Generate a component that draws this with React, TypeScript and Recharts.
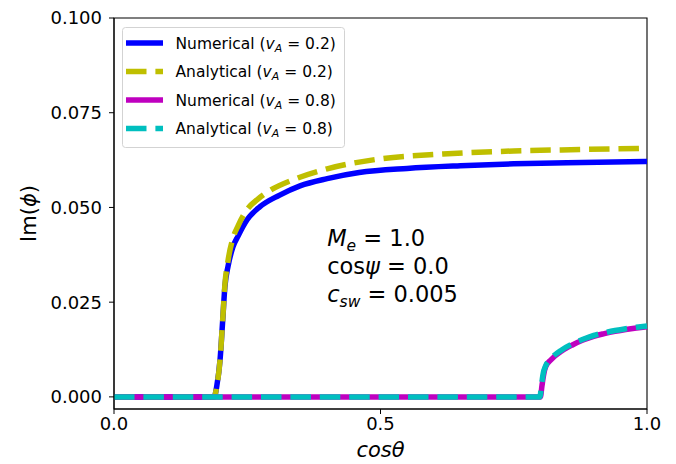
import {
  LineChart,
  Line,
  XAxis,
  YAxis,
  ReferenceArea,
  ReferenceDot,
} from 'recharts';

// cos(theta) samples and Im(phi) values
const num02X = [0, 0.188, 0.193, 0.199, 0.204, 0.208, 0.214, 0.223, 0.233, 0.25, 0.274, 0.31, 0.349, 0.4, 0.46, 0.55, 0.65, 0.75, 0.85, 1.0];
const num02Y = [0, 0, 0.003, 0.0098, 0.0203, 0.029, 0.0345, 0.0395, 0.0425, 0.0468, 0.0502, 0.0532, 0.0557, 0.0576, 0.0592, 0.0603, 0.061, 0.0615, 0.0618, 0.0621];

const ana02X = [0, 0.188, 0.193, 0.199, 0.204, 0.208, 0.214, 0.223, 0.233, 0.25, 0.27, 0.293, 0.336, 0.4, 0.493, 0.617, 0.75, 0.88, 1.0];
const ana02Y = [0, 0, 0.003, 0.0098, 0.0205, 0.0295, 0.036, 0.0418, 0.0452, 0.0495, 0.0522, 0.0545, 0.0573, 0.0602, 0.0627, 0.0641, 0.0649, 0.0653, 0.0656];

const num08X = [0, 0.8, 0.803, 0.806, 0.81, 0.82, 0.84, 0.86, 0.88, 0.9, 0.92, 0.94, 0.96, 0.98, 1.0];
const num08Y = [0, 0, 0.003, 0.0058, 0.008, 0.0098, 0.0121, 0.0137, 0.015, 0.016, 0.0167, 0.0173, 0.0178, 0.0182, 0.0185];

const ana08X = [0, 0.799, 0.802, 0.805, 0.81, 0.82, 0.84, 0.86, 0.88, 0.9, 0.92, 0.94, 0.96, 0.98, 1.0];
const ana08Y = [0, 0, 0.003, 0.006, 0.0082, 0.0101, 0.0124, 0.014, 0.0152, 0.0162, 0.0169, 0.0175, 0.018, 0.0184, 0.0187];

const xTicks = [0, 0.5, 1];
const yTicks = [0, 0.025, 0.05, 0.075, 0.1];
const yMin = -0.0032;
const yMax = 0.1;

const zip = (xs: number[], ys: number[]) => xs.map((x, i) => ({ x, y: ys[i] }));

const FONT = '"DejaVu Sans", sans-serif';
const DASH = '20.5 8.9';
const LW = 5.5;

const series = [
  { key: 'num02', data: zip(num02X, num02Y), color: '#0000ff', dash: undefined, label: 'Numerical', va: '0.2' },
  { key: 'ana02', data: zip(ana02X, ana02Y), color: '#bfbf00', dash: DASH, label: 'Analytical', va: '0.2' },
  { key: 'num08', data: zip(num08X, num08Y), color: '#bf00bf', dash: undefined, label: 'Numerical', va: '0.8' },
  { key: 'ana08', data: zip(ana08X, ana08Y), color: '#00bfbf', dash: DASH, label: 'Analytical', va: '0.8' },
];

const MathLegend = () => (
  <svg width={224} height={122} style={{ display: 'block' }}>
    <rect x={0.5} y={0.5} width={222} height={120} rx={3} fill="#fff" fillOpacity={0.8} stroke="#d3d3d3" />
    {series.map((s, i) => {
      const cy = 16 + i * 28.5;
      return (
        <g key={s.key}>
          <line x1={4} x2={41} y1={cy} y2={cy} stroke={s.color} strokeWidth={LW} strokeDasharray={s.dash} />
          <text x={53.5} y={cy + 5.5} fontFamily={FONT} fontSize={15.5} fill="#000">
            {s.label} (
            <tspan fontStyle="italic">v</tspan>
            <tspan fontStyle="italic" fontSize={11} dy={3}>A</tspan>
            <tspan dy={-3}> = {s.va})</tspan>
          </text>
        </g>
      );
    })}
  </svg>
);

// text block anchored at data point (0.4, 0.025)
const ParamsNote = ({ cx, cy }: any) => (
  <g fontFamily={FONT} fontSize={22.5} fill="#000">
    <text x={cx} y={cy - 56.5}>
      <tspan fontStyle="italic">M</tspan>
      <tspan fontStyle="italic" fontSize={15.5} dy={5}>e</tspan>
      <tspan dy={-5}> = 1.0</tspan>
    </text>
    <text x={cx} y={cy - 28}>
      cos<tspan fontStyle="italic">ψ</tspan> = 0.0
    </text>
    <text x={cx} y={cy}>
      <tspan fontStyle="italic">c</tspan>
      <tspan fontStyle="italic" fontSize={15.5} dy={5}>sw</tspan>
      <tspan dy={-5}> = 0.005</tspan>
    </text>
  </g>
);

const XLabel = ({ viewBox }: any) => (
  <text x={viewBox.x + viewBox.width / 2} y={viewBox.y + 47.5} textAnchor="middle"
    fontFamily={FONT} fontSize={21} fontStyle="italic" fill="#000">
    cosθ
  </text>
);

const YLabel = ({ viewBox }: any) => {
  const cx = 36;
  const cy = viewBox.y + viewBox.height / 2;
  return (
    <text x={cx} y={cy} textAnchor="middle" transform={`rotate(-90, ${cx}, ${cy})`}
      fontFamily={FONT} fontSize={21} fill="#000">
      Im(<tspan fontStyle="italic">ϕ</tspan>)
    </text>
  );
};

export default function App() {
  return (
    <div style={{ position: 'absolute', left: 0, top: 0, width: 676, height: 464, background: '#fff' }}>
      <LineChart width={676} height={464} margin={{ top: 18, right: 29, bottom: 0, left: 0 }}>
        <XAxis
          dataKey="x"
          type="number"
          domain={[0, 1]}
          ticks={xTicks}
          tickFormatter={(v: number) => v.toFixed(1)}
          height={55}
          tickSize={5}
          tickMargin={3}
          stroke="#000"
          tick={{ fontSize: 18, fill: '#000', fontFamily: FONT }}
          allowDuplicatedCategory={false}
          label={<XLabel />}
        />
        <YAxis
          dataKey="y"
          type="number"
          domain={[yMin, yMax]}
          ticks={yTicks}
          tickFormatter={(v: number) => v.toFixed(3)}
          width={114}
          tickSize={5}
          tickMargin={7}
          stroke="#000"
          allowDataOverflow
          tick={{ fontSize: 18, fill: '#000', fontFamily: FONT }}
          label={<YLabel />}
        />
        {series.map((s) => (
          <Line
            key={s.key}
            data={s.data}
            dataKey="y"
            name={s.key}
            type="monotone"
            stroke={s.color}
            strokeWidth={LW}
            strokeDasharray={s.dash}
            strokeLinejoin="round"
            dot={false}
            activeDot={false}
            isAnimationActive={false}
          />
        ))}
        <ReferenceArea x1={0} x2={1} y1={yMin} y2={yMax} fill="none" stroke="#000" strokeWidth={1.1} fillOpacity={0} />
        <ReferenceDot x={0.4} y={0.025} r={0} shape={(p: any) => <ParamsNote {...p} />} />
      </LineChart>
      <div style={{ position: 'absolute', left: 122, top: 27 }}>
        <MathLegend />
      </div>
    </div>
  );
}
